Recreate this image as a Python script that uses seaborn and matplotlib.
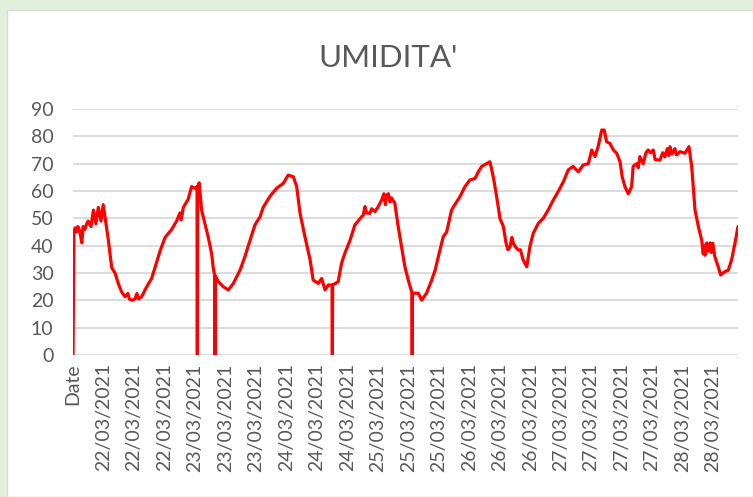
import matplotlib
matplotlib.use("Agg")
import matplotlib.pyplot as plt
from matplotlib.patches import Rectangle
import seaborn as sns
import pandas as pd

# posizione lungo l'asse (in passi di etichetta) e umidita'
pos = [0.00, 0.03, 0.07, 0.12, 0.16, 0.22, 0.29, 0.33, 0.39, 0.45, 0.50, 0.59, 0.67, 0.75,
       0.83, 0.92, 0.99, 1.05,
       1.16, 1.27, 1.32, 1.38, 1.49, 1.60, 1.71, 1.80, 1.85, 1.93, 2.03, 2.10, 2.15, 2.25,
       2.42, 2.58, 2.69, 2.85, 3.02, 3.24, 3.40, 3.51, 3.55, 3.62, 3.78, 3.89,
       4.00, 4.07, 4.08, 4.09, 4.14, 4.22, 4.33, 4.44, 4.55, 4.60, 4.65, 4.66, 4.67, 4.77,
       4.93, 5.10, 5.26, 5.48, 5.64, 5.81, 5.97, 6.14, 6.24, 6.46, 6.68, 6.90, 7.06, 7.23,
       7.34, 7.45, 7.61, 7.78, 7.88, 8.05, 8.16, 8.27, 8.38, 8.50, 8.51, 8.52, 8.70, 8.81,
       8.92, 9.09, 9.25,
       9.47, 9.52, 9.58, 9.63, 9.74, 9.80, 9.91, 10.00, 10.13, 10.20, 10.25, 10.29, 10.35,
       10.40, 10.45, 10.56,
       10.67, 10.78, 10.89, 11.00, 11.11, 11.12, 11.13, 11.14, 11.33, 11.44, 11.60, 11.77,
       11.88, 12.04, 12.15, 12.26, 12.42, 12.53, 12.70, 12.86, 13.02, 13.19, 13.30, 13.41,
       13.57, 13.68, 13.79, 13.90, 14.01, 14.12,
       14.21, 14.27, 14.34, 14.40, 14.45, 14.52, 14.61, 14.68, 14.77, 14.89,
       14.99, 15.10, 15.27, 15.43, 15.59, 15.76, 15.92, 16.09, 16.25, 16.41, 16.58, 16.74,
       16.91, 17.02, 17.13, 17.23, 17.35, 17.43, 17.51, 17.62, 17.73, 17.84, 17.95, 18.02,
       18.11, 18.22, 18.33,
       18.38, 18.49, 18.55, 18.60, 18.71, 18.80, 18.87, 18.95, 19.04, 19.10, 19.26, 19.35,
       19.42, 19.50, 19.55, 19.59, 19.65, 19.75, 19.80, 19.92, 20.08, 20.21,
       20.30, 20.35, 20.41, 20.52,
       20.63, 20.68, 20.70, 20.74, 20.79, 20.84, 20.90, 20.95, 20.99, 21.06,
       21.17, 21.25, 21.39, 21.50, 21.61, 21.72, 21.82]
umidita = [0, 44.5, 46.5, 45, 47, 45.5, 41, 47, 46, 48, 49, 47, 53, 48,
           54, 49, 55, 50.6,
           42, 32, 31, 30, 26, 23, 21.3, 22.5, 20.5, 20, 20.5, 22.5, 20.5, 21.3,
           25, 28, 32, 37.8, 43, 46, 49, 52, 49.5, 54, 57, 61.6,
           61, 61.6, 0, 61, 63, 53, 48, 43, 37, 32, 29, 0, 29, 26.8,
           25, 23.8, 26.2, 31, 36, 42, 47.6, 50.6, 54, 58, 61, 62.8, 65.8, 65.2,
           61.6, 51.8, 43.3, 34.8, 27.4, 26.2, 28, 23.8, 25.6, 25.6, 0, 25.6, 26.8, 33.5,
           37.2, 42, 47.6,
           50.6, 51, 54.3, 52, 51.8, 53.5, 52.5, 54, 56.7, 59, 55, 58.5, 59,
           56, 57.5, 55.5,
           47, 39.6, 32.3, 27.4, 23.2, 23, 0, 22.6, 22.6, 20.1, 22.6, 27.4,
           31, 38.4, 43.3, 45, 53, 55, 58, 61.6, 64, 64.6, 67, 69,
           70, 70.7, 65.2, 58, 50, 47,
           40.9, 38.5, 39.6, 43, 40.9, 39.5, 38.4, 38.5, 34.8, 32.3,
           39.6, 44.5, 48.2, 50, 53, 56.7, 59.8, 63.4, 67.7, 69, 67, 69.5,
           70, 75, 72.6, 76.2, 82.3, 82.3, 78, 77.4, 75, 73.8, 70.7, 65.2,
           61.6, 59, 61.6,
           69, 70, 68.5, 72.6, 70, 74, 75, 74, 75, 71.5, 71.3, 74,
           72.5, 75.5, 73, 76.2, 73.5, 75.5, 73.2, 74.4, 73.8, 76.2,
           69, 61.6, 53, 47,
           42, 37, 40, 36.5, 41, 38, 41, 37.5, 40.9, 36,
           32.3, 29.3, 30.5, 31, 34.8, 40.9, 47]

etichette = ["Date"] + ["22/03/2021"] * 3 + ["23/03/2021"] * 3 + ["24/03/2021"] * 3 \
    + ["25/03/2021"] * 3 + ["26/03/2021"] * 3 + ["27/03/2021"] * 4 + ["28/03/2021"] * 2
y_ticks = [0, 10, 20, 30, 40, 50, 60, 70, 80, 90]

sns.set_theme(style="white")
plt.rcParams['font.family'] = ['Lato', 'DejaVu Sans']

grigio = '#595959'
df = pd.DataFrame({'pos': pos, 'umidita': umidita})

fig = plt.figure(figsize=(7.53, 4.97), dpi=100, facecolor='#E2EFDA')
# area del grafico bianca con bordo grigio
fig.patches.append(Rectangle((7 / 753, 0), 1.0, 1 - 10 / 497, transform=fig.transFigure,
                             facecolor='white', edgecolor='#D9D9D9', lw=1.0, zorder=-5))

ax = fig.add_axes([73 / 753, 1 - 355 / 497, (738 - 73) / 753, (355 - 109) / 497])
ax.set_facecolor('none')
ax.set_zorder(2)

sns.lineplot(data=df, x='pos', y='umidita', sort=False, estimator=None,
             color='#FF0000', lw=2.3, ax=ax)

ax.set_xlim(0, pos[-1])
ax.set_ylim(0, 90)
ax.set_yticks(y_ticks)
ax.set_xticks(range(len(etichette)))
ax.set_xticklabels(etichette, rotation=90)
ax.grid(axis='y', color='#D9D9D9', lw=1.3)
ax.grid(axis='x', visible=False)
for s in ax.spines.values():
    s.set_visible(False)
ax.tick_params(axis='y', labelsize=14, colors=grigio, pad=14, length=0)
ax.tick_params(axis='x', labelsize=14, colors=grigio, pad=6, length=0)
ax.set_xlabel('')
ax.set_ylabel('')

fig.text(0.515, 1 - 58 / 497, "UMIDITA'", ha='center', va='center',
         fontsize=22.5, color=grigio)

fig.savefig('out.png', dpi=100, facecolor=fig.get_facecolor())
